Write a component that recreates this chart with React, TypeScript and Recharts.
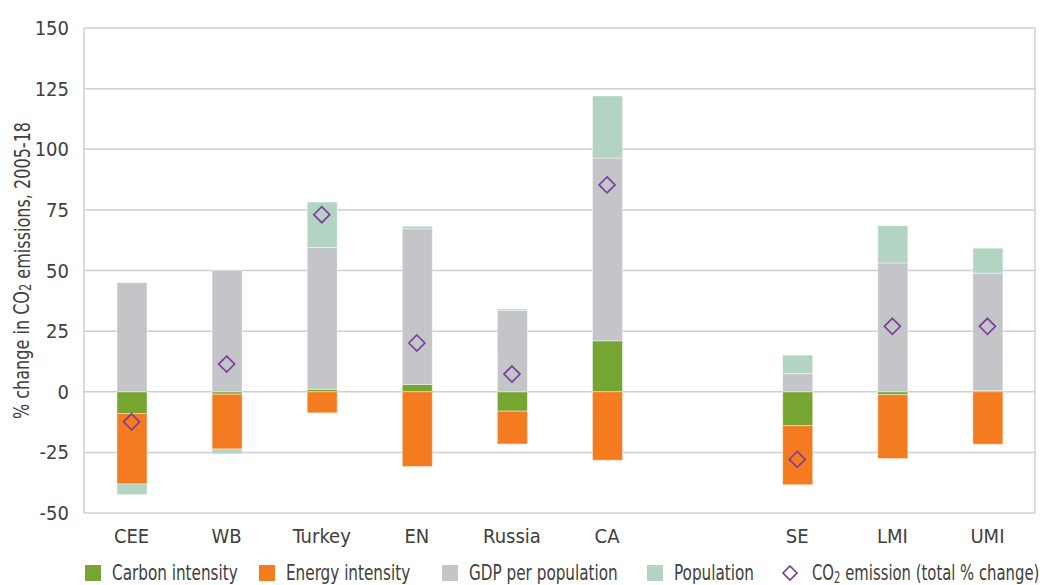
import {
  ComposedChart, Bar, Scatter, XAxis, YAxis, CartesianGrid, Legend, Label
} from 'recharts';

const categories = ['CEE', 'WB', 'Turkey', 'EN', 'Russia', 'CA', '', 'SE', 'LMI', 'UMI'];
const carbon = [-9, -1, 1, 3, -8, 21, null, -14, -1.2, 0.5];
const energy = [-29, -22.6, -8.7, -30.8, -13.5, -28.2, null, -24.3, -26.3, -21.6];
const gdp = [45, 50, 58.5, 64.2, 33.5, 75.4, null, 7.5, 53.1, 48.4];
const population = [-4.4, -2, 18.7, 1, 0.6, 25.6, null, 7.6, 15.4, 10.3];
const total = [-12.4, 11.4, 73, 20.1, 7.3, 85.3, null, -27.9, 27, 27];

const yTicks = [-50, -25, 0, 25, 50, 75, 100, 125, 150];

const data = categories.map((name, i) => ({
  name,
  carbon: carbon[i],
  energy: energy[i],
  gdp: gdp[i],
  population: population[i],
  total: total[i],
}));

const FONT = '"Liberation Sans Narrow", "DejaVu Sans Condensed", "Open Sans", sans-serif';
const TEXT = '#404040';
const PURPLE = '#7d3f98';
const SQUEEZE = 0.77;

const series = [
  { key: 'carbon', label: 'Carbon intensity', color: '#76a532' },
  { key: 'energy', label: 'Energy intensity', color: '#f47b20' },
  { key: 'gdp', label: 'GDP per population', color: '#c3c5c9' },
  { key: 'population', label: 'Population', color: '#b3d3c3' },
];
// left edge of each legend item's symbol
const legendX = [85, 259, 442, 647, 782];

const Diamond = (props: any) => {
  const { cx, cy, payload } = props;
  if (payload == null || payload.total == null || !isFinite(cx) || !isFinite(cy)) return null;
  const r = 8;
  return (
    <path
      d={`M${cx},${cy - r} L${cx + r},${cy} L${cx},${cy + r} L${cx - r},${cy} Z`}
      fill="none"
      stroke={PURPLE}
      strokeWidth={1.7}
    />
  );
};

const YLabel = (props: any) => {
  const vb = props.viewBox || {};
  const x = 22;
  const y = vb.y + vb.height / 2;
  return (
    <g transform={`translate(${x}, ${y}) rotate(-90) scale(0.85, 1)`}>
      <text x={0} y={0} textAnchor="middle" dominantBaseline="central" fill={TEXT} fontSize={21} fontFamily={FONT}>
        % change in CO
        <tspan dy={4} fontSize={15}>2</tspan>
        <tspan dy={-4}> emissions, 2005-18</tspan>
      </text>
    </g>
  );
};

const LegendBox = () => (
  <svg width={1043} height={32} style={{ display: 'block' }}>
    {series.map((s, i) => (
      <g key={s.key}>
        <rect x={legendX[i]} y={12} width={16} height={16} fill={s.color} />
        <g transform={`translate(${legendX[i] + 27}, 27) scale(${SQUEEZE}, 1)`}>
          <text x={0} y={0} fill={TEXT} fontSize={22} fontFamily={FONT}>{s.label}</text>
        </g>
      </g>
    ))}
    <path
      d={`M${legendX[4] + 8},13 L${legendX[4] + 15},20 L${legendX[4] + 8},27 L${legendX[4] + 1},20 Z`}
      fill="none"
      stroke={PURPLE}
      strokeWidth={1.7}
    />
    <g transform={`translate(${legendX[4] + 30}, 27) scale(0.75, 1)`}>
      <text x={0} y={0} fill={TEXT} fontSize={22} fontFamily={FONT}>
        CO<tspan dy={3} fontSize={15}>2</tspan>
        <tspan dy={-3}> emission (total % change)</tspan>
      </text>
    </g>
  </svg>
);

export default function App() {
  return (
    <div style={{ position: 'absolute', left: 0, top: 0, width: 1043, height: 585, background: '#fff' }}>
      <ComposedChart
        width={1043}
        height={585}
        data={data}
        stackOffset="sign"
        barSize={30}
        margin={{ top: 28, right: 8, left: 0, bottom: 0 }}
      >
        <CartesianGrid
          stroke="#d0d0d0"
          strokeWidth={1.5}
          verticalCoordinatesGenerator={(p: any) => [p.offset.left, p.offset.left + p.offset.width]}
        />
        <XAxis
          dataKey="name"
          height={40}
          axisLine={false}
          tickLine={false}
          tickSize={0}
          tickMargin={16}
          interval={0}
          tick={{ fill: TEXT, fontSize: 20, fontFamily: FONT }}
        />
        <YAxis
          width={84}
          domain={[-50, 150]}
          ticks={yTicks}
          allowDataOverflow
          axisLine={false}
          tickLine={false}
          tickSize={0}
          tickMargin={15}
          tick={{ fill: TEXT, fontSize: 20, fontFamily: FONT }}
        >
          <Label content={<YLabel />} />
        </YAxis>
        {series.map((s) => (
          <Bar
            key={s.key}
            dataKey={s.key}
            name={s.label}
            stackId="a"
            fill={s.color}
            stroke="#ffffff"
            strokeOpacity={0.5}
            strokeWidth={0.8}
            isAnimationActive={false}
          />
        ))}
        <Scatter dataKey="total" name="CO2 emission (total % change)" shape={Diamond} isAnimationActive={false} />
        <Legend verticalAlign="bottom" content={<LegendBox />} wrapperStyle={{ left: 0, width: 1043 }} />
      </ComposedChart>
    </div>
  );
}
